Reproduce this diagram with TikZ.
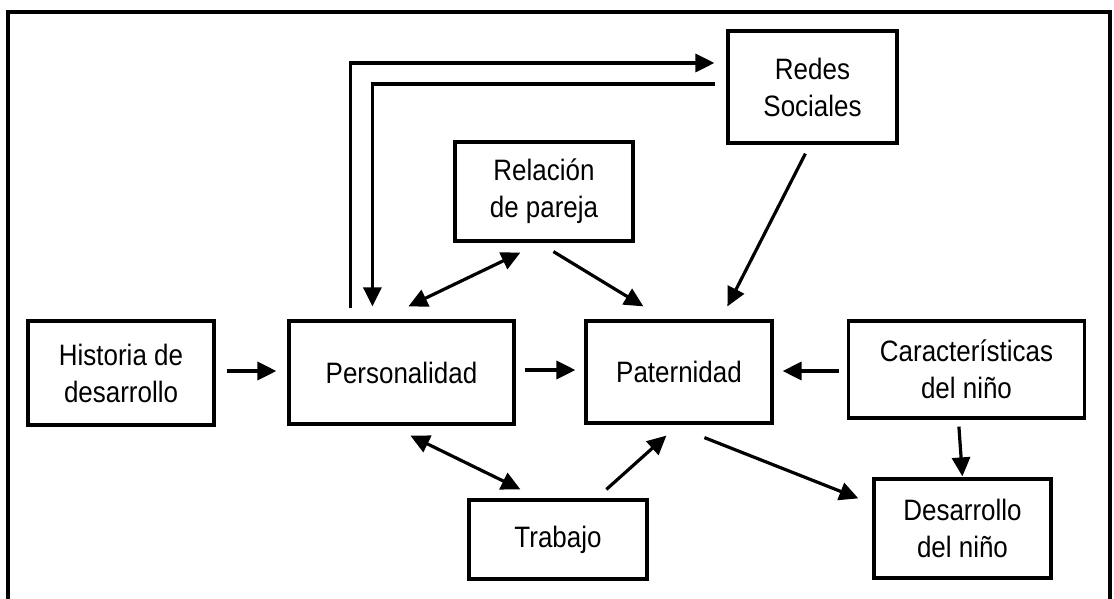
\documentclass[tikz,border=0pt]{standalone}
\usepackage{fontspec}
\setmainfont[FakeStretch=0.88]{Liberation Sans}
\usetikzlibrary{arrows.meta,calc}
\tikzset{
  box/.style={draw=black,line width=3.2pt,rectangle,inner sep=0pt,align=center,
    font=\fontsize{29.5}{37}\selectfont,text=black},
  conn/.style={line width=3.2pt,-{Triangle[length=19pt,width=18pt]}},
  biconn/.style={line width=3.2pt,{Triangle[length=19pt,width=18pt]}-{Triangle[length=19pt,width=18pt]}},
  frame/.style={line width=3.2pt}
}
\begin{document}
\begin{tikzpicture}[x=1pt,y=-1pt]
\useasboundingbox (0,0) rectangle (1114,599);
% outer frame (open at bottom)
\draw[frame] (8,605) -- (8,12) -- (1110,12) -- (1110,605);

\node[box,minimum width=186pt,minimum height=104pt] (hist) at (121,373) {Historia de\\desarrollo};
\node[box,minimum width=225pt,minimum height=103pt] (pers) at (401.5,372.5) {Personalidad};
\node[box,minimum width=186pt,minimum height=102pt] (pat) at (679,372) {Paternidad};
\node[box,minimum width=236pt,minimum height=97pt] (car) at (966.5,369.5) {Características\\del niño};
\node[box,minimum width=177pt,minimum height=99pt] (des) at (962.5,528.5) {Desarrollo\\del niño};
\node[box,minimum width=178pt,minimum height=79pt] (trab) at (558,539.5) {Trabajo};
\node[box,minimum width=178pt,minimum height=99pt] (rel) at (544,191.5) {Relación\\de pareja};
\node[box,minimum width=169pt,minimum height=112pt] (redes) at (812.5,87) {Redes\\Sociales};

% straight horizontal arrows
\draw[conn] ($(hist.east)+(11,-2)$) -- ($(pers.west)+(-11,-1.5)$);
\draw[conn] ($(pers.east)+(9,-2.5)$) -- ($(pat.west)+(-9,-2)$);
\draw[conn] ($(car.west)+(-8,1.5)$) -- ($(pat.east)+(9,-1)$);

% diagonal arrows
\draw[biconn] ($(pers.south west)+(123,10)$) -- ($(trab.north west)+(53,-9)$);
\draw[conn] ($(trab.north west)+(139,-9)$) -- ($(pat.south west)+(82,11)$);
\draw[biconn] ($(pers.north west)+(121,-13)$) -- ($(rel.south west)+(67,10)$);
\draw[conn] ($(rel.south west)+(100,9)$) -- ($(pat.north west)+(59,-13)$);
\draw[conn] ($(redes.south west)+(79,9)$) -- ($(pat.north west)+(143,-13)$);
\draw[conn] ($(pat.south west)+(120,13)$) -- ($(des.north west)+(-14,21)$);
\draw[conn] ($(car.south west)+(112,7)$) -- ($(des.north west)+(90,-1)$);

% loops between Personalidad and Redes Sociales
\draw[conn] ($(pers.north west)+(63,-11)$) |- ($(redes.west)+(-12,-24)$);
\draw[conn] ($(redes.west)+(-11,-3)$) -| ($(pers.north west)+(85,-13)$);
\end{tikzpicture}
\end{document}
